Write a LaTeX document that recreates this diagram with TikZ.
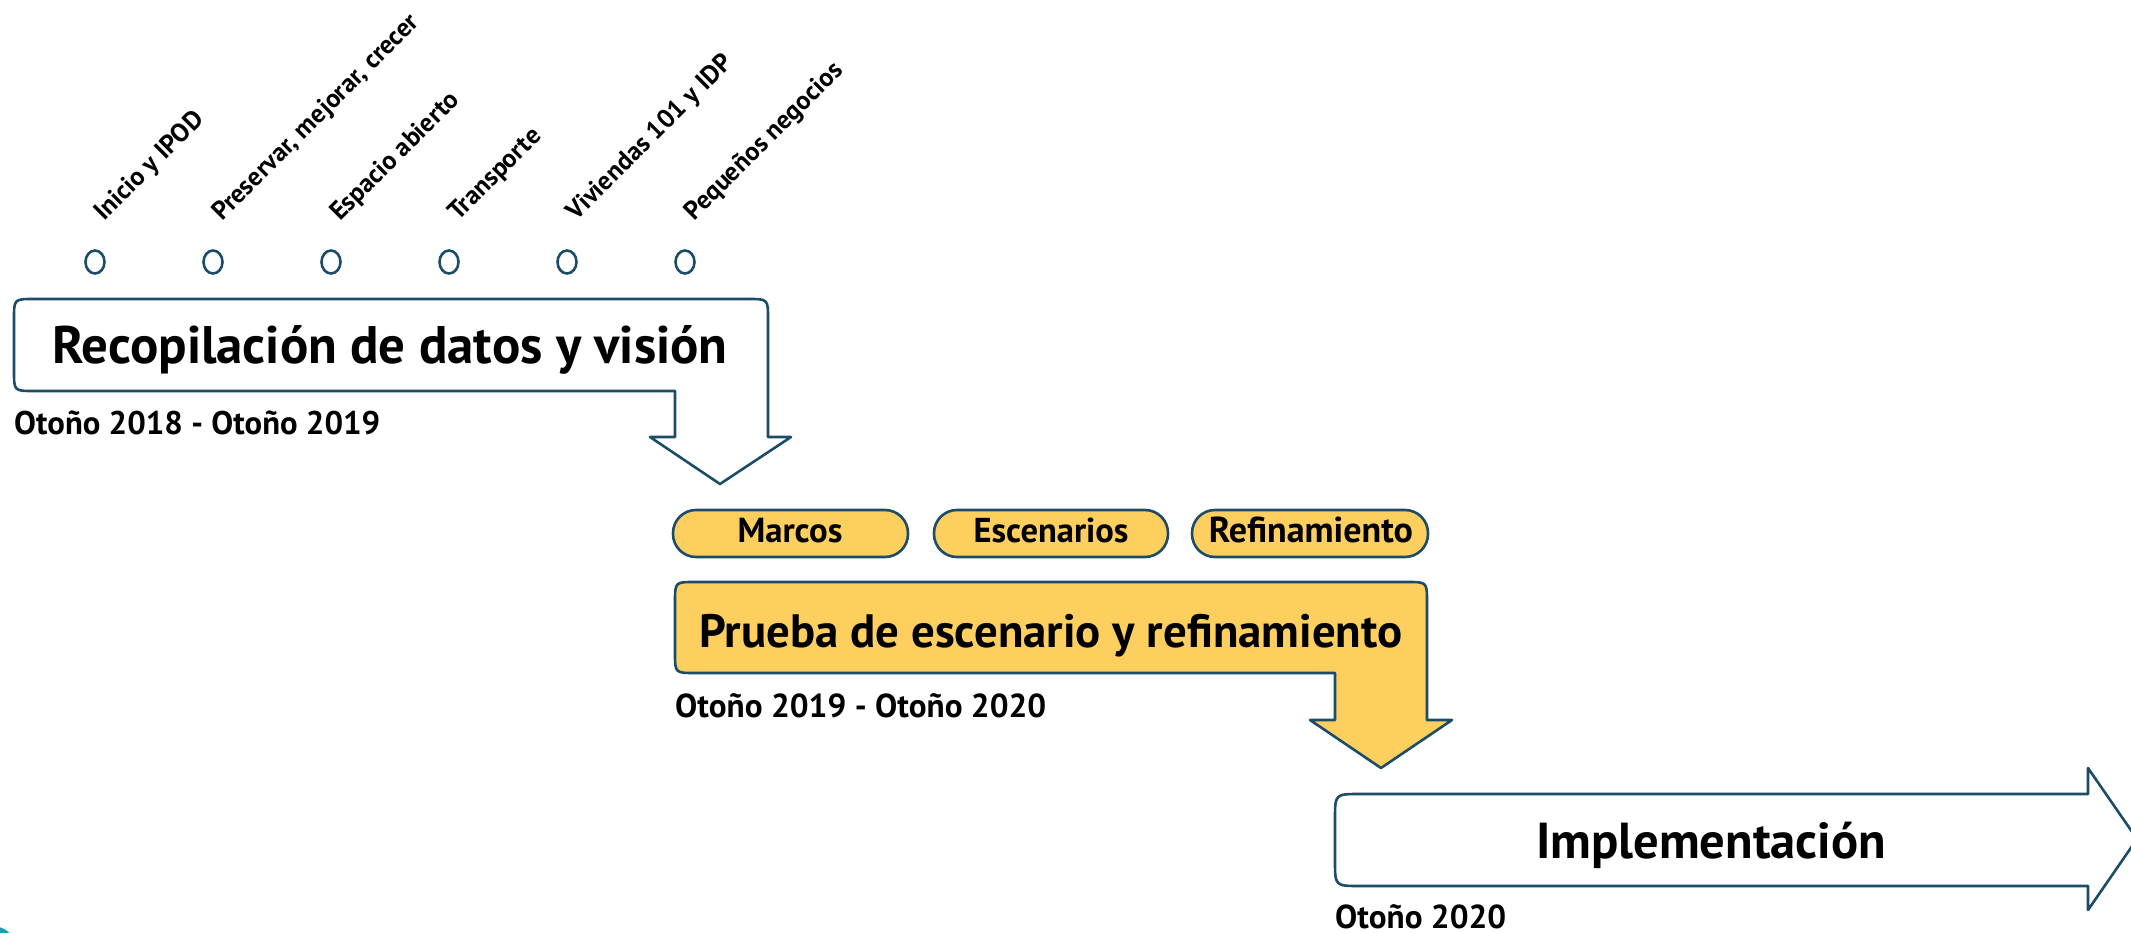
\documentclass[tikz,border=0pt]{standalone}
\usepackage{fontspec}
\setmainfont{PT Sans}
\usepackage{graphicx}
\definecolor{ink}{HTML}{1D4C69}
\definecolor{gold}{HTML}{FDCF5F}
\definecolor{tealdot}{HTML}{1AA0A8}
\newcommand{\fitw}[2]{\resizebox{#1pt}{!}{\bfseries #2}}
\begin{document}
\begin{tikzpicture}[x=1pt,y=-1pt,
  outl/.style={draw=ink,line width=2.6pt,line join=round},
  dotc/.style={draw=ink,line width=2.6pt},
  pill/.style={draw=ink,line width=2.6pt,fill=gold,rounded corners=23pt},
  lbl/.style={inner sep=0pt,anchor=base west,rotate=45,font=\bfseries\fontsize{26}{26}\selectfont},
  txt/.style={inner sep=0pt}]
\useasboundingbox (0,0) rectangle (2131,933);
\clip (0,0) rectangle (2131,933);

% milestone circles
\foreach \i/\x in {1/95,2/213,3/331,4/449,5/567,6/685}{
  \draw[dotc] (\x,262) ellipse [x radius=9.5pt,y radius=11.5pt];
  \coordinate (c\i) at (\x,262);
}
\node[lbl] (l1) at (104,222) {Inicio y IPOD};
\node[lbl] (l2) at (222,222) {Preservar, mejorar, crecer};
\node[lbl] (l3) at (340,222) {Espacio abierto};
\node[lbl] (l4) at (458,222) {Transporte};
\node[lbl] (l5) at (576,222) {Viviendas 101 y IDP};
\node[lbl] (l6) at (694,222) {Pequeños negocios};

% box 1
\draw[outl,fill=white] (675,437) -- (675,391) -- (34,391) .. controls (14,391) .. (14,371)
  -- (14,319) .. controls (14,299) .. (34,299) -- (748,299) .. controls (768,299) .. (768,319)
  -- (768,437) -- (791,437) -- (720,484) -- (650,437) -- cycle;
\node[txt,anchor=base] (t1) at (390,363) {\fitw{675}{Recopilación de datos y visión}};
\node[txt,anchor=base west] (d1) at (14,434) {\fitw{366}{Otoño 2018 - Otoño 2019}};

% pills
\draw[pill] (673,510) rectangle (908,557);
\draw[pill] (934,510) rectangle (1168,557);
\draw[pill] (1192,510) rectangle (1428,557);
\node[txt,anchor=base] (p1) at (790,542) {\fitw{105}{Marcos}};
\node[txt,anchor=base] (p2) at (1051,542) {\fitw{155}{Escenarios}};
\node[txt,anchor=base] (p3) at (1311,542) {\fitw{204}{Refinamiento}};

% box 2
\draw[outl,fill=gold] (1335,720) -- (1335,673) -- (695,673) .. controls (675,673) .. (675,653)
  -- (675,602) .. controls (675,582) .. (695,582) -- (1407,582) .. controls (1427,582) .. (1427,602)
  -- (1427,720) -- (1452,720) -- (1381,768) -- (1310,720) -- cycle;
\node[txt,anchor=base] (t2) at (1051,647) {\fitw{703}{Prueba de escenario y refinamiento}};
\node[txt,anchor=base west] (d2) at (675,717) {\fitw{371}{Otoño 2019 - Otoño 2020}};

% box 3
\draw[outl,fill=white] (2088,794) -- (2088,768) -- (2137,839) -- (2088,910) -- (2088,886)
  -- (1360,886) .. controls (1335,886) .. (1335,861) -- (1335,819) .. controls (1335,794) .. (1360,794) -- cycle;
\node[txt,anchor=base] (t3) at (1711,858) {\fitw{350}{Implementación}};
\node[txt,anchor=base west] (d3) at (1335,928) {\fitw{171}{Otoño 2020}};

% corner blob
\fill[tealdot] (-8,952) circle (26);
\end{tikzpicture}
\end{document}
